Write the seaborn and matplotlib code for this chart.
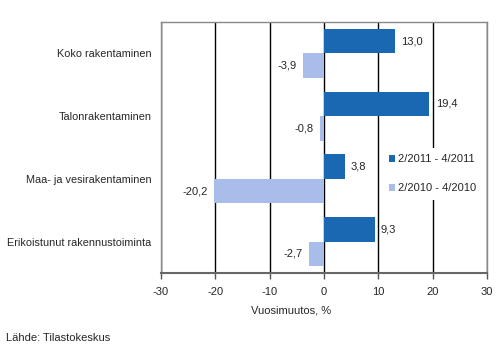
import pandas as pd
import seaborn as sns
import matplotlib.pyplot as plt

categories = ['Koko rakentaminen', 'Talonrakentaminen',
              'Maa- ja vesirakentaminen', 'Erikoistunut rakennustoiminta']
periods = ['2/2011 - 4/2011', '2/2010 - 4/2010']
values_2011 = [13.0, 19.4, 3.8, 9.3]
values_2010 = [-3.9, -0.8, -20.2, -2.7]
xticks = [-30, -20, -10, 0, 10, 20, 30]

DARK = '#1a67b2'
LIGHT = '#a8bdea'

df = pd.DataFrame({
    'category': categories * 2,
    'period': [periods[0]] * 4 + [periods[1]] * 4,
    'value': values_2011 + values_2010,
})

sns.set_style('white')
plt.rcParams['font.family'] = ['Liberation Sans', 'DejaVu Sans']
plt.rcParams['font.size'] = 8

fig = plt.figure(figsize=(5.02, 3.56), dpi=100)
ax = fig.add_axes([0.3207, 0.2331, 0.6494, 0.7051])

sns.barplot(data=df, y='category', x='value', hue='period', orient='h',
            palette=[DARK, LIGHT], width=0.78, saturation=1, ax=ax,
            order=categories, hue_order=periods, linewidth=0)

for cont in ax.containers:
    labels = [f'{b.get_width():.1f}'.replace('.', ',') for b in cont]
    ax.bar_label(cont, labels=labels, padding=4.5, fontsize=8)

ax.set_xlim(-30, 30)
ax.set_ylim(3.5, -0.5)
ax.set_xticks(xticks)
ax.set_xticklabels([str(t) for t in xticks])
ax.xaxis.grid(True, color='black', linewidth=1)
ax.set_axisbelow(True)
ax.tick_params(axis='x', length=4, width=1, color='#555555', pad=6,
               labelsize=8, bottom=True)
ax.tick_params(axis='y', length=0, pad=7, labelsize=7.8)
ax.set_ylabel('')
ax.set_xlabel('Vuosimuutos, %', fontsize=8)
ax.xaxis.set_label_coords(0.40, -0.13)

for s in ['left', 'top', 'right']:
    ax.spines[s].set_color('#888888')
    ax.spines[s].set_linewidth(1)
ax.spines['bottom'].set_color('#666666')
ax.spines['bottom'].set_linewidth(1.5)

ax.legend(loc='upper left', bbox_to_anchor=(0.678, 0.50), frameon=True,
          facecolor='white', edgecolor='none', framealpha=1, fancybox=False,
          handlelength=0.6, handleheight=0.6, handletextpad=0.2,
          labelspacing=1.7, borderpad=0.6, fontsize=8, borderaxespad=0)

fig.text(0.012, 0.05, 'Lähde: Tilastokeskus', fontsize=8, va='center')

fig.savefig('out.png', dpi=100)
